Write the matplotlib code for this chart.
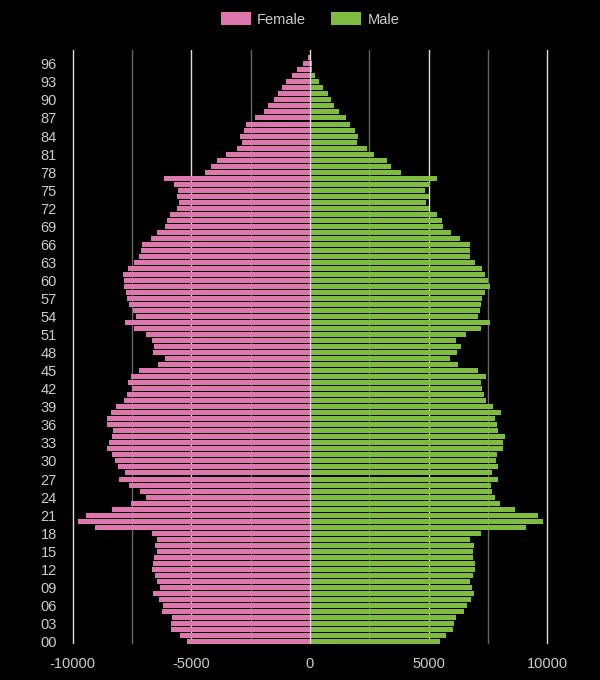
import numpy as np
import matplotlib.pyplot as plt
from matplotlib.patches import Patch

plt.rcParams['font.family'] = ['Liberation Sans', 'DejaVu Sans']

# ages 0..97
ages = np.arange(0, 98)

female = [
    5173, 5478, 5856, 5856, 5812, 6233, 6190, 6364, 6611, 6321,   # 0-9
    6437, 6524, 6655, 6611, 6568, 6437, 6524, 6437, 6655, 9052,   # 10-19
    9779, 9445, 8340, 7541, 6902, 7163, 7628, 8050, 7788, 8093,   # 20-29
    8209, 8340, 8558, 8471, 8340, 8297, 8558, 8558, 8384, 8166,   # 30-39
    7832, 7701, 7497, 7672, 7541, 7207, 6393, 6103, 6611, 6568,   # 40-49
    6655, 6902, 7410, 7788, 7323, 7454, 7628, 7701, 7745, 7832,   # 50-59
    7832, 7875, 7672, 7410, 7207, 7120, 7076, 6698, 6437, 6103,   # 60-69
    6015, 5899, 5594, 5507, 5594, 5550, 5725, 6146, 4417, 4170,   # 70-79
    3909, 3531, 3066, 2862, 2935, 2775, 2688, 2310, 1932, 1758,   # 80-89
    1511, 1337, 1162, 1003, 741, 538, 305, 102,                   # 90-97
]

male = [
    5492, 5754, 6044, 6088, 6175, 6509, 6640, 6800, 6931, 6844,   # 0-9
    6756, 6887, 6974, 6974, 6887, 6887, 6931, 6727, 7192, 9125,   # 10-19
    9808, 9633, 8660, 7992, 7817, 7686, 7643, 7948, 7686, 7948,   # 20-29
    7861, 7904, 8151, 8151, 8239, 7948, 7904, 7817, 8035, 7730,   # 30-39
    7439, 7352, 7265, 7192, 7439, 7105, 6262, 5885, 6219, 6379,   # 40-49
    6175, 6597, 7192, 7570, 7105, 7149, 7192, 7265, 7396, 7570,   # 50-59
    7527, 7396, 7265, 6974, 6756, 6727, 6756, 6306, 5957, 5623,   # 60-69
    5580, 5376, 4998, 4911, 4998, 4868, 5071, 5376, 3850, 3429,   # 70-79
    3226, 2717, 2383, 1991, 2034, 1918, 1700, 1526, 1235, 1032,   # 80-89
    901, 770, 567, 392, 218, 102, 73, 44,                         # 90-97
]

x_ticks = [-10000, -5000, 0, 5000, 10000]
x_minor = [-7500, -2500, 2500, 7500]
y_ticks = list(range(0, 97, 3))

pink = '#de77ae'
green = '#7fbc41'
text_col = '#cccccc'

fig = plt.figure(figsize=(6, 6.8), dpi=100, facecolor='black')
ax = fig.add_axes([61 / 600, 36 / 680, 498 / 600, 594 / 680])
ax.set_facecolor('black')

ax.barh(ages, -np.array(female), height=0.83, color=pink, zorder=2)
ax.barh(ages, male, height=0.83, color=green, zorder=2)

# grid sits behind the bars, the zero line on top
for x in x_minor:
    ax.axvline(x, color='#666666', linewidth=1, zorder=1)
for x in x_ticks:
    ax.axvline(x, color='#dddddd', linewidth=1, zorder=3 if x == 0 else 1)

ax.set_xlim(-10500, 10500)
ax.set_ylim(-0.42, 98.3)

ax.set_xticks(x_ticks)
ax.set_xticklabels([str(v) for v in x_ticks])
ax.set_yticks(y_ticks)
ax.set_yticklabels([f'{a:02d}' for a in y_ticks])
ax.tick_params(axis='both', length=0, labelsize=10.5, labelcolor=text_col)
ax.tick_params(axis='x', pad=9)
ax.tick_params(axis='y', pad=3)

for s in ax.spines.values():
    s.set_visible(False)

handles = [Patch(facecolor=pink, label='Female'), Patch(facecolor=green, label='Male')]
fig.legend(handles=handles, loc='center', bbox_to_anchor=(310 / 600, 1 - 19.5 / 680),
           ncol=2, frameon=False, fontsize=10.5, labelcolor=text_col,
           handlelength=2.05, handleheight=0.95, handletextpad=0.45, columnspacing=1.7)

fig.savefig('out.png', dpi=100, facecolor='black')
